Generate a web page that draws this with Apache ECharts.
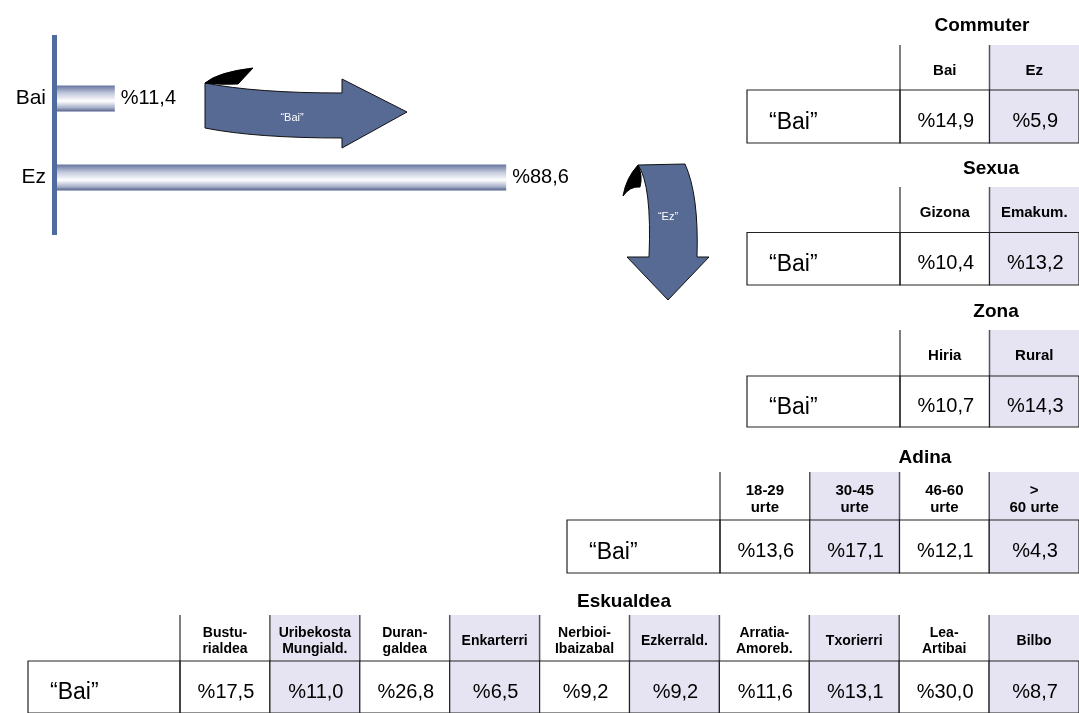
<!DOCTYPE html>
<html>
<head>
<meta charset="utf-8">
<title>Bai / Ez</title>
<script src="https://cdn.jsdelivr.net/npm/echarts@6/dist/echarts.min.js"></script>
<style>
  html, body { margin: 0; padding: 0; background: #fff; }
  #main { width: 1079px; height: 713px; }
</style>
</head>
<body>
<div id="main"></div>
<script>
// datuak
const mainCats = ['Bai', 'Ez'];
const mainValues = [11.4, 88.6];

const rowLabel = '“Bai”';

const commuterCols = ['Bai', 'Ez'];
const commuterValues = [14.9, 5.9];

const sexuaCols = ['Gizona', 'Emakum.'];
const sexuaValues = [10.4, 13.2];

const zonaCols = ['Hiria', 'Rural'];
const zonaValues = [10.7, 14.3];

const adinaCols = ['18-29\nurte', '30-45\nurte', '46-60\nurte', '>\n60 urte'];
const adinaValues = [13.6, 17.1, 12.1, 4.3];

const eskualdeaCols = ['Bustu-\nrialdea', 'Uribekosta\nMungiald.', 'Duran-\ngaldea', 'Enkarterri',
  'Nerbioi-\nIbaizabal', 'Ezkerrald.', 'Arratia-\nAmoreb.', 'Txorierri', 'Lea-\nArtibai', 'Bilbo'];
const eskualdeaValues = [17.5, 11.0, 26.8, 6.5, 9.2, 9.2, 11.6, 13.1, 30.0, 8.7];

const FONT = '"Liberation Sans", Arial, sans-serif';
const LAVENDER = '#e6e4f3';
const ARROW = '#566a93';

function pct(v) {
  return '%' + v.toFixed(1).replace('.', ',');
}

// taulen kokapena
const tables = [
  { title: 'Commuter', cols: commuterCols, vals: commuterValues, left: 900, top: 37, height: 106, inset: 8, labelW: 153, titleX: 977, titleY: 11, headSize: 15, lh: 17 },
  { title: 'Sexua', cols: sexuaCols, vals: sexuaValues, left: 900, top: 180, height: 105, inset: 7, labelW: 153, titleX: 986, titleY: 154, headSize: 15, lh: 17 },
  { title: 'Zona', cols: zonaCols, vals: zonaValues, left: 900, top: 325, height: 102, inset: 5, labelW: 153, titleX: 991, titleY: 297, headSize: 15, lh: 17 },
  { title: 'Adina', cols: adinaCols, vals: adinaValues, left: 720, top: 467, height: 106, inset: 5, labelW: 153, titleX: 920, titleY: 443, headSize: 15, lh: 17 },
  { title: 'Eskualdea', cols: eskualdeaCols, vals: eskualdeaValues, left: 180, top: 609, height: 106, inset: 6, labelW: 152, titleX: 619, titleY: 587, headSize: 14, lh: 16 }
];

const grids = [{ left: 57, top: 59, width: 507, height: 158 }];
const xAxes = [{ type: 'value', gridIndex: 0, min: 0, max: 100, show: false }];
const yAxes = [{
  type: 'category', gridIndex: 0, data: mainCats, inverse: true,
  axisLine: { show: false }, axisTick: { show: false },
  axisLabel: { fontSize: 21, color: '#000', fontFamily: FONT, margin: 11 }
}];
const titles = [];
const series = [{
  type: 'bar',
  xAxisIndex: 0, yAxisIndex: 0,
  data: mainValues,
  barWidth: 26,
  itemStyle: {
    color: new echarts.graphic.LinearGradient(0, 0, 0, 1, [
      { offset: 0, color: '#66759e' },
      { offset: 0.3, color: '#c3cadd' },
      { offset: 0.6, color: '#ffffff' },
      { offset: 0.85, color: '#a8b1ca' },
      { offset: 1, color: '#54628a' }
    ])
  },
  label: {
    show: true, position: 'right', distance: 6,
    fontSize: 20, color: '#000', fontFamily: FONT,
    formatter: p => pct(p.value)
  }
}];

tables.forEach((t, k) => {
  const gi = k + 1;
  const width = 90 * t.cols.length;
  const rows = ['', rowLabel];
  grids.push({ left: t.left, top: t.top, width: width, height: t.height });
  xAxes.push({ type: 'category', gridIndex: gi, data: t.cols, show: false });
  yAxes.push({ type: 'category', gridIndex: gi, data: rows, inverse: true, show: false });
  titles.push({
    text: t.title, left: t.titleX, top: t.titleY, textAlign: 'center',
    textStyle: { fontSize: 19, fontWeight: 'bold', color: '#000', fontFamily: FONT }
  });

  const cells = [];
  t.cols.forEach((c, i) => cells.push({ value: [i, 0], text: c }));
  t.vals.forEach((v, i) => cells.push({ value: [i, 1], text: pct(v) }));

  series.push({
    type: 'custom',
    xAxisIndex: gi, yAxisIndex: gi,
    data: cells.map(c => c.value),
    renderItem: function (params, api) {
      const col = api.value(0), row = api.value(1);
      const c = api.coord([col, row]);
      const s = api.size([1, 1]);
      const x0 = c[0] - s[0] / 2, y0 = c[1] - s[1] / 2;
      const fill = col % 2 === 1 ? LAVENDER : '#fff';
      const text = cells[params.dataIndex].text;
      const kids = [];
      if (row === 0) {
        const top = y0 + t.inset;
        kids.push({ type: 'rect', shape: { x: x0, y: top, width: s[0], height: y0 + s[1] - top }, style: { fill: fill } });
        kids.push({ type: 'line', shape: { x1: x0, y1: top, x2: x0, y2: y0 + s[1] }, style: { stroke: '#555', lineWidth: 1.5 } });
        kids.push({ type: 'text', style: {
          text: text, x: c[0], y: (top + y0 + s[1]) / 2 + 3, align: 'center', verticalAlign: 'middle',
          font: 'bold ' + t.headSize + 'px ' + FONT, lineHeight: t.lh, fill: '#000' } });
      } else {
        kids.push({ type: 'rect', shape: { x: x0, y: y0, width: s[0], height: s[1] }, style: { fill: fill, stroke: '#222', lineWidth: 1.2 } });
        if (col === 0) {
          // errenkadaren izena
          kids.push({ type: 'rect', shape: { x: x0 - t.labelW, y: y0, width: t.labelW, height: s[1] }, style: { fill: 'none', stroke: '#222', lineWidth: 1.2 } });
          kids.push({ type: 'text', style: {
            text: rows[row], x: x0 - t.labelW + 22, y: c[1] + 6, align: 'left', verticalAlign: 'middle',
            font: '23px ' + FONT, fill: '#000' } });
        }
        kids.push({ type: 'text', style: {
          text: text, x: c[0] + 1, y: c[1] + 5, align: 'center', verticalAlign: 'middle',
          font: '20px ' + FONT, fill: '#000' } });
      }
      return { type: 'group', children: kids };
    }
  });
});

const chart = echarts.init(document.getElementById('main'));
chart.setOption({
  animation: false,
  backgroundColor: '#fff',
  title: titles,
  grid: grids,
  xAxis: xAxes,
  yAxis: yAxes,
  series: series,
  graphic: [
    // ardatz bertikala
    { type: 'rect', shape: { x: 52, y: 35, width: 5, height: 200 }, style: { fill: '#4f6a9c' }, z: 10 },
    { type: 'text', z: 20, style: { text: '“Bai”', x: 292, y: 118, align: 'center', verticalAlign: 'middle', font: '11px ' + FONT, fill: '#fff' } },
    { type: 'text', z: 20, style: { text: '“Ez”', x: 668, y: 217, align: 'center', verticalAlign: 'middle', font: '11px ' + FONT, fill: '#fff' } }
  ]
});

// gezi kurbatuak
const zr = chart.getZr();
[
  ['M205 83 Q255 93 342 93 L342 79 L407 112 L342 148 L342 138 Q255 138 205 128 Z', ARROW, '#111'],
  ['M205 83 Q218 72 253 68 L238 84 Q220 85 205 83 Z', '#000', '#000'],
  ['M638 165 Q652 185 649 257 L627 257 L668 300 L709 257 L697 257 Q699 195 685 164 Z', ARROW, '#111'],
  ['M638 165 Q626 178 623 196 Q630 186 640 187 Q643 176 638 165 Z', '#000', '#000']
].forEach(a => {
  const p = echarts.graphic.makePath(a[0], { style: { fill: a[1], stroke: a[2], lineWidth: 1 }, z: 1 });
  zr.add(p);
});

window.onresize = () => chart.resize();
</script>
</body>
</html>
